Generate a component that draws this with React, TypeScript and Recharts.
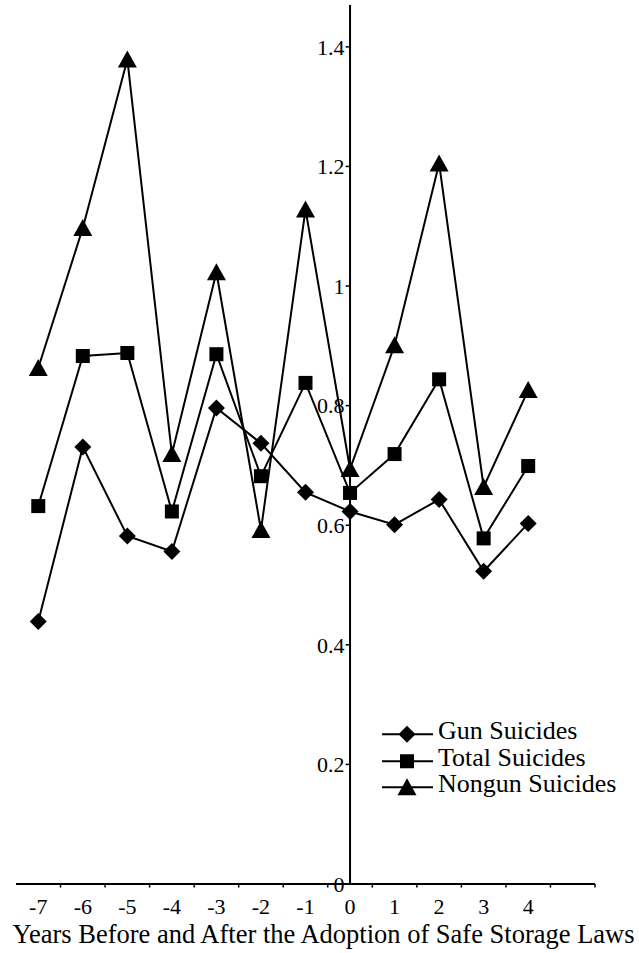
import React from 'react';
import { LineChart, Line, XAxis, YAxis, ReferenceLine, Legend } from 'recharts';

const W = 639;
const H = 953;
const FONT = '"Liberation Serif", "Times New Roman", serif';

const YEARS = [-7, -6, -5, -4, -3, -2, -1, 0, 1, 2, 3, 4];
const GUN = [0.439, 0.731, 0.582, 0.556, 0.796, 0.737, 0.655, 0.623, 0.601, 0.643, 0.523, 0.603];
const TOTAL = [0.632, 0.883, 0.888, 0.623, 0.886, 0.682, 0.838, 0.654, 0.719, 0.844, 0.578, 0.699];
const NONGUN = [0.863, 1.097, 1.379, 0.719, 1.023, 0.592, 1.128, 0.694, 0.901, 1.205, 0.664, 0.826];

const Y_TICKS = [0, 0.2, 0.4, 0.6, 0.8, 1, 1.2, 1.4];
const Y_TICK_LABELS = ['0', '0.2', '0.4', '0.6', '0.8', '1', '1.2', '1.4'];
const X_TICK_MARKS = [-6.5, -5.5, -4.5, -3.5, -2.5, -1.5, -0.5, 0.5, 1.5, 2.5, 3.5, 4.5, 5.5];
const X_TITLE = 'Years Before and After the Adoption of Safe Storage Laws';

const data = YEARS.map((year, i) => ({
  year,
  gun: GUN[i],
  total: TOTAL[i],
  nongun: NONGUN[i],
}));

type Shape = 'diamond' | 'square' | 'triangle';

const SERIES: { key: string; name: string; shape: Shape }[] = [
  { key: 'gun', name: 'Gun Suicides', shape: 'diamond' },
  { key: 'total', name: 'Total Suicides', shape: 'square' },
  { key: 'nongun', name: 'Nongun Suicides', shape: 'triangle' },
];

function Marker({ cx, cy, shape }: { cx: number; cy: number; shape: Shape }) {
  if (shape === 'diamond') {
    const r = 8.5;
    return <path d={`M${cx},${cy - r}L${cx + r},${cy}L${cx},${cy + r}L${cx - r},${cy}Z`} fill="#000" />;
  }
  if (shape === 'square') {
    return <rect x={cx - 7} y={cy - 7} width={14} height={14} fill="#000" />;
  }
  return <path d={`M${cx},${cy - 9}L${cx + 9.5},${cy + 8}L${cx - 9.5},${cy + 8}Z`} fill="#000" />;
}

const makeDot = (shape: Shape) => (props: any) => {
  const { cx, cy, index } = props;
  if (cx == null || cy == null) return <g key={`e-${shape}-${index}`} />;
  return <Marker key={`${shape}-${index}`} cx={cx} cy={cy} shape={shape} />;
};

const TitleLabel = (props: any) => {
  const vb = props.viewBox || {};
  return (
    <text
      x={vb.x + vb.width / 2 + 18}
      y={vb.y + vb.height - 10}
      textAnchor="middle"
      fill="#000"
      fontSize={26.5}
      fontFamily={FONT}
    >
      {X_TITLE}
    </text>
  );
};

const renderLegend = (props: any) => {
  const payload = props.payload || [];
  const ordered = SERIES.map((s) => ({ s, entry: payload.find((p: any) => p.value === s.name) })).filter(
    (o) => o.entry
  );
  return (
    <div style={{ fontFamily: FONT, fontSize: 26, color: '#000' }}>
      {ordered.map(({ s, entry }: any) => (
        <div key={entry.value} style={{ display: 'flex', alignItems: 'center', height: 26.5 }}>
          <svg width={56} height={26.5} style={{ display: 'block', flex: 'none' }}>
            <line x1={2} x2={53} y1={13.25} y2={13.25} stroke="#000" strokeWidth={2} />
            <Marker cx={27} cy={13.25} shape={s.shape} />
          </svg>
          <span style={{ position: 'relative', top: -3, marginLeft: 2, lineHeight: '26.5px', whiteSpace: 'nowrap' }}>
            {entry.value}
          </span>
        </div>
      ))}
    </div>
  );
};

export default function App() {
  return (
    <div style={{ position: 'absolute', left: 0, top: 0, width: W, height: H, background: '#fff' }}>
      <LineChart width={W} height={H} data={data} margin={{ top: 5, right: 44, left: 16, bottom: 0 }}>
        <XAxis
          dataKey="year"
          type="number"
          domain={[-7.5, 5.5]}
          ticks={YEARS}
          interval={0}
          allowDataOverflow
          tickLine={false}
          axisLine={{ stroke: '#000', strokeWidth: 2 }}
          tick={{ fill: '#000', fontSize: 22, fontFamily: FONT }}
          tickSize={6}
          tickMargin={8}
          height={69}
          label={TitleLabel}
        />
        <YAxis hide type="number" domain={[0, 1.47]} allowDataOverflow />
        <ReferenceLine x={0} stroke="#000" strokeWidth={2} />
        {Y_TICKS.map((v, i) => (
          <ReferenceLine
            key={`yt-${v}`}
            segment={[{ x: -0.1, y: v }, { x: 0, y: v }]}
            stroke="#000"
            strokeWidth={1.5}
            ifOverflow="visible"
            label={{ value: Y_TICK_LABELS[i], position: 'left', offset: 1, fill: '#000', fontSize: 22, fontFamily: FONT }}
          />
        ))}
        {X_TICK_MARKS.map((t) => (
          <ReferenceLine
            key={`xt-${t}`}
            segment={[{ x: t, y: 0 }, { x: t, y: -0.006 }]}
            stroke="#000"
            strokeWidth={1.5}
            ifOverflow="visible"
          />
        ))}
        {SERIES.map((s) => (
          <Line
            key={s.key}
            dataKey={s.key}
            name={s.name}
            type="linear"
            stroke="#000"
            strokeWidth={2}
            dot={makeDot(s.shape)}
            activeDot={false}
            isAnimationActive={false}
          />
        ))}
        <Legend
          layout="vertical"
          align="center"
          verticalAlign="middle"
          wrapperStyle={{ left: 380, top: 721, width: 259, height: 'auto' }}
          content={renderLegend}
        />
      </LineChart>
    </div>
  );
}
